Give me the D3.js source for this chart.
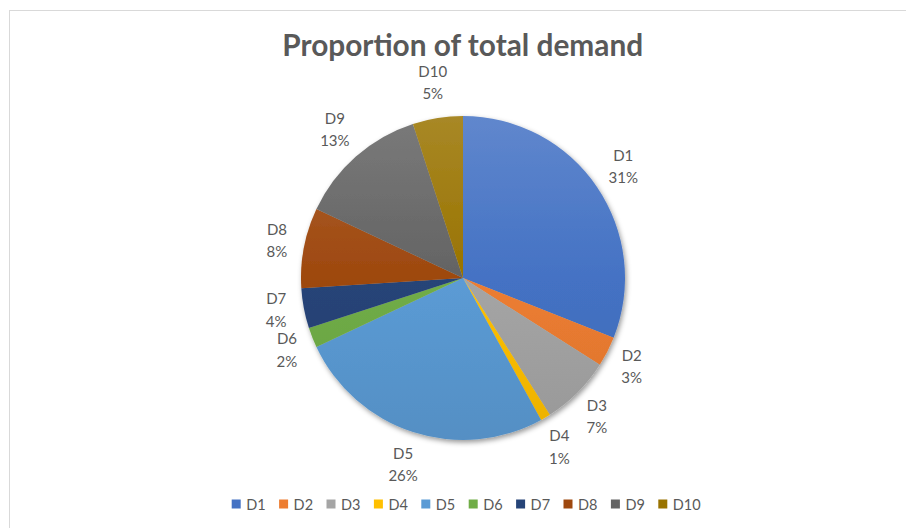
<!DOCTYPE html>
<html>
<head>
<meta charset="utf-8">
<script src="https://cdn.jsdelivr.net/npm/d3@7/dist/d3.min.js"></script>
<style>
  body { margin: 0; background: #fff; }
  svg { display: block; font-family: Lato, "Open Sans", "Noto Sans", sans-serif; }
</style>
</head>
<body>
<svg id="chart" width="906" height="528"></svg>
<script>
// Share of total demand by demand point
const categories = ["D1", "D2", "D3", "D4", "D5", "D6", "D7", "D8", "D9", "D10"];
const demand = [31, 3, 7, 1, 26, 2, 4, 8, 13, 5];
const palette = ["#4472C4", "#ED7D31", "#A5A5A5", "#FFC000", "#5B9BD5",
                 "#70AD47", "#264478", "#9E480E", "#636363", "#997300"];
const titleText = "Proportion of total demand";

const W = 906, H = 528;
const cx = 463, cy = 278, r = 162;
const textColor = "#595959";

const data = categories.map((c, i) => ({ name: c, value: demand[i], color: palette[i], i }));
const total = d3.sum(demand);
const pct = d3.format(".0%");

const svg = d3.select("#chart");
const defs = svg.append("defs");

// chart-area frame
svg.append("rect")
  .attr("x", 9.5).attr("y", 10.5)
  .attr("width", 1000).attr("height", 1000)
  .attr("fill", "#fff").attr("stroke", "#d9d9d9");

// soft drop shadow under the pie
const shadow = defs.append("filter").attr("id", "pieShadow")
  .attr("x", "-10%").attr("y", "-10%").attr("width", "130%").attr("height", "130%");
shadow.append("feDropShadow")
  .attr("dx", 1.5).attr("dy", 2.5).attr("stdDeviation", 2.5)
  .attr("flood-color", "#000").attr("flood-opacity", 0.4);

// vertical light-to-dark gradient per slice colour (in the pie group's local space)
data.forEach(d => {
  const g = defs.append("linearGradient").attr("id", "grad" + d.i)
    .attr("gradientUnits", "userSpaceOnUse")
    .attr("x1", 0).attr("y1", -r).attr("x2", 0).attr("y2", r);
  g.append("stop").attr("offset", 0).attr("stop-color", d3.interpolateRgb(d.color, "#fff")(0.15));
  g.append("stop").attr("offset", 0.5).attr("stop-color", d.color);
  g.append("stop").attr("offset", 1).attr("stop-color", d3.interpolateRgb(d.color, "#000")(0.08));
});

// title
svg.append("text")
  .attr("x", 462.7).attr("y", 56)
  .attr("text-anchor", "middle")
  .attr("font-size", 29.8).attr("font-weight", 700)
  .attr("fill", textColor)
  .text(titleText);

// pie
const pie = d3.pie().sort(null).value(d => d.value);
const arc = d3.arc().innerRadius(0).outerRadius(r);
const arcs = pie(data);

svg.append("g")
  .attr("transform", `translate(${cx},${cy})`)
  .attr("filter", "url(#pieShadow)")
  .selectAll("path")
  .data(arcs)
  .join("path")
  .attr("d", arc)
  .attr("fill", d => `url(#grad${d.data.i})`);

// data labels: name and percentage, placed just outside the rim
const labelR = r + 17, halfH = 18, pad = 4;
const labelG = svg.append("g")
  .attr("font-size", 15).attr("fill", textColor).attr("text-anchor", "middle");

const labels = arcs.map(a => {
  const t = labelG.append("text");
  const l1 = t.append("tspan").text(a.data.name);
  const l2 = t.append("tspan").text(pct(a.data.value / total));
  const w = Math.max(l1.node().getComputedTextLength(), l2.node().getComputedTextLength()) / 2;
  const th = (a.startAngle + a.endAngle) / 2;
  return {
    t, l1, l2, w,
    side: Math.sin(th) >= 0 ? 1 : -1,
    x: cx + (labelR + w) * Math.sin(th),
    y: cy - (labelR + halfH) * Math.cos(th)
  };
});

// push overlapping labels upward along the rim
function overlaps(a, b) {
  return Math.abs(a.x - b.x) < a.w + b.w && Math.abs(a.y - b.y) < 2 * halfH + pad;
}
[1, -1].forEach(side => {
  const group = labels.filter(l => l.side === side).sort((a, b) => b.y - a.y);
  const placed = [];
  group.forEach(l => {
    let guard = 0;
    let hit = placed.find(p => overlaps(l, p));
    while (hit && guard++ < 20) {
      l.y = hit.y - 2 * halfH - pad;
      const c = Math.max(-1, Math.min(1, -(l.y - cy) / (labelR + halfH)));
      const s = Math.sqrt(1 - c * c) * side;
      l.x = cx + (labelR + l.w) * s;
      hit = placed.find(p => overlaps(l, p));
    }
    placed.push(l);
  });
});

labels.forEach(l => {
  l.l1.attr("x", l.x).attr("y", l.y - 6.5);
  l.l2.attr("x", l.x).attr("y", l.y + 16);
});

// legend
const legendX = d3.scaleBand().domain(categories).range([231.7, 231.7 + 47.4 * categories.length]);
const legend = svg.append("g").selectAll("g")
  .data(data)
  .join("g")
  .attr("transform", d => `translate(${legendX(d.name)},499.5)`);
legend.append("rect")
  .attr("width", 9).attr("height", 9)
  .attr("fill", d => d.color);
legend.append("text")
  .attr("x", 14.5).attr("y", 10.5)
  .attr("font-size", 14.5).attr("fill", textColor)
  .text(d => d.name);
</script>
</body>
</html>
